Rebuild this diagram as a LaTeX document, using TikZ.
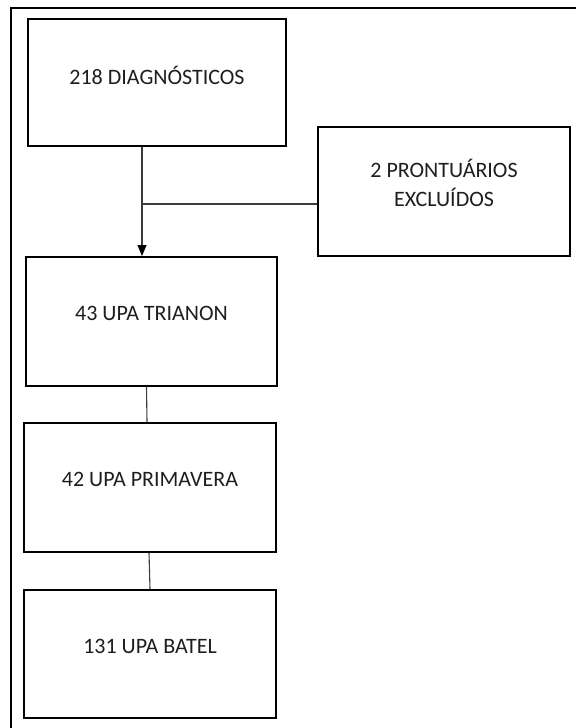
\documentclass[tikz,border=0pt]{standalone}
\usepackage{fontspec}
\setmainfont{Carlito}
\usepackage{tikz}
\usetikzlibrary{arrows.meta,positioning}
\definecolor{inkgrey}{RGB}{30,30,30}
\definecolor{linegrey}{RGB}{60,60,60}

\begin{document}
\begin{tikzpicture}[x=1pt, y=-1pt,
    box/.style={draw=black, line width=2pt, rectangle, inner sep=0pt,
      minimum width=252pt, minimum height=129pt, text=inkgrey,
      font=\fontsize{22}{29}\selectfont, text height=15pt, align=center},
    link/.style={draw=linegrey, line width=1.1pt}]
    \useasboundingbox (0,0) rectangle (576,728);
    % Frame (only top and left edges visible)
    \draw[line width=2.3pt] (11,728) -- (11,8) -- (576,8);
    % Boxes
    \node[box, minimum width=258pt, minimum height=127pt, text depth=10.8pt]
      (diag) at (157,82.5) {218 DIAGNÓSTICOS};
    \node[box, text height=44pt, text depth=15pt] (excl) at (444,191.5)
      {2 PRONTUÁRIOS\\EXCLUÍDOS};
    \node[box, minimum width=251pt, text depth=17.8pt]
      (trianon) at (151.5,321.5) {43 UPA TRIANON};
    \node[box, text depth=17.8pt] (primavera) at (150,487.5) {42 UPA PRIMAVERA};
    \node[box, minimum height=128pt, text depth=16.8pt]
      (batel) at (150,654) {131 UPA BATEL};
    % Connectors
    \coordinate (drop) at ([xshift=-15pt]diag.south);
    \draw[link, -{Triangle[length=11pt,width=9pt,black]}]
      (drop) -- (drop |- trianon.north);
    \draw[link] ([yshift=-12.5pt]excl.west) -- ([yshift=-12.5pt]excl.west -| drop);
    \draw[link] ([xshift=-5pt]trianon.south) -- ([xshift=-3pt]primavera.north);
    \draw[link] ([xshift=-1pt]primavera.south) -- (batel.north);
  \end{tikzpicture}
\end{document}
